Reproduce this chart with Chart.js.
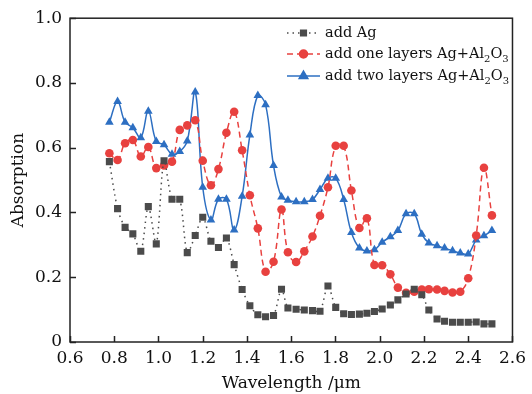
<!DOCTYPE html>
<html>
<head>
<meta charset="utf-8">
<script src="https://cdn.jsdelivr.net/npm/chart.js@4/dist/chart.umd.min.js"></script>
<style>
  html, body { margin: 0; padding: 0; background: #fff; }
  #c { display: block; }
</style>
</head>
<body>
<canvas id="c" width="532" height="394"></canvas>
<script>
const wavelength = [0.778, 0.815, 0.849, 0.884, 0.920, 0.954, 0.990, 1.025, 1.061, 1.096,
  1.130, 1.166, 1.200, 1.237, 1.271, 1.307, 1.342, 1.378, 1.413, 1.449,
  1.484, 1.520, 1.556, 1.585, 1.622, 1.659, 1.696, 1.730, 1.766, 1.801,
  1.837, 1.872, 1.908, 1.942, 1.976, 2.011, 2.048, 2.082, 2.119, 2.156,
  2.190, 2.222, 2.259, 2.293, 2.329, 2.364, 2.400, 2.436, 2.471, 2.507];

const addAg = [0.557, 0.412, 0.354, 0.334, 0.280, 0.418, 0.303, 0.560, 0.441, 0.441,
  0.276, 0.329, 0.385, 0.311, 0.292, 0.321, 0.239, 0.162, 0.112, 0.084,
  0.078, 0.082, 0.163, 0.105, 0.101, 0.099, 0.097, 0.095, 0.173, 0.107,
  0.087, 0.085, 0.086, 0.089, 0.094, 0.102, 0.114, 0.130, 0.148, 0.163,
  0.146, 0.099, 0.071, 0.064, 0.061, 0.061, 0.061, 0.062, 0.056, 0.056];

const oneLayer = [0.583, 0.562, 0.614, 0.624, 0.573, 0.602, 0.537, 0.545, 0.557, 0.655,
  0.669, 0.685, 0.560, 0.484, 0.534, 0.646, 0.711, 0.592, 0.453, 0.351,
  0.217, 0.248, 0.409, 0.277, 0.247, 0.280, 0.326, 0.390, 0.478, 0.606,
  0.606, 0.468, 0.352, 0.382, 0.238, 0.237, 0.209, 0.168, 0.152, 0.155,
  0.162, 0.163, 0.162, 0.158, 0.153, 0.155, 0.197, 0.329, 0.538, 0.391];

const twoLayers = [0.679, 0.743, 0.679, 0.662, 0.631, 0.713, 0.619, 0.609, 0.580, 0.588,
  0.621, 0.772, 0.478, 0.377, 0.441, 0.441, 0.346, 0.450, 0.639, 0.761,
  0.733, 0.545, 0.448, 0.438, 0.433, 0.433, 0.440, 0.471, 0.506, 0.506,
  0.440, 0.338, 0.290, 0.281, 0.285, 0.308, 0.325, 0.344, 0.396, 0.396,
  0.333, 0.306, 0.297, 0.290, 0.282, 0.275, 0.272, 0.315, 0.328, 0.344];

const xTicks = [0.6, 0.8, 1.0, 1.2, 1.4, 1.6, 1.8, 2.0, 2.2, 2.4, 2.6];
const yTicks = [0, 0.2, 0.4, 0.6, 0.8, 1.0];

const GRAY = "#4b4b4b";
const RED = "#e8413f";
const BLUE = "#2d6fc2";
const FONT = "'DejaVu Serif', serif";

const pts = (ys) => ys.map((y, i) => ({ x: wavelength[i], y: y }));

// legend entries, "sub" pieces are drawn as subscripts
const legendRows = [
  { color: GRAY, dash: [1.5, 4], style: "rect", r: 4, parts: [["add Ag", false]] },
  { color: RED, dash: [6, 4], style: "circle", r: 4, parts: [["add one layers Ag+Al", false], ["2", true], ["O", false], ["3", true]] },
  { color: BLUE, dash: [], style: "triangle", r: 5, parts: [["add two layers Ag+Al", false], ["2", true], ["O", false], ["3", true]] },
];

const framePlugin = {
  id: "frame",
  afterDraw(chart) {
    const { ctx, chartArea: a, scales } = chart;
    ctx.save();
    ctx.strokeStyle = "#222";
    ctx.lineWidth = 1.5;
    ctx.setLineDash([]);
    ctx.strokeRect(a.left, a.top, a.right - a.left, a.bottom - a.top);
    ctx.beginPath();
    xTicks.forEach((v) => {
      const px = Math.round(scales.x.getPixelForValue(v)) + 0.5;
      ctx.moveTo(px, a.bottom);
      ctx.lineTo(px, a.bottom - 6);
    });
    yTicks.forEach((v) => {
      const py = Math.round(scales.y.getPixelForValue(v)) + 0.5;
      ctx.moveTo(a.left, py);
      ctx.lineTo(a.left + 6, py);
    });
    ctx.stroke();

    // legend
    const x0 = 287, x1 = 320, tx = 325;
    const rowsY = [33, 54, 76];
    legendRows.forEach((row, i) => {
      const y = rowsY[i];
      ctx.strokeStyle = row.color;
      ctx.lineWidth = 1.5;
      ctx.setLineDash(row.dash);
      ctx.beginPath();
      ctx.moveTo(x0, y);
      ctx.lineTo(x1, y);
      ctx.stroke();
      ctx.setLineDash([]);
      ctx.fillStyle = row.color;
      Chart.helpers.drawPoint(ctx, { pointStyle: row.style, radius: row.r, rotation: 0, borderWidth: 1 }, (x0 + x1) / 2, y);
      ctx.fill();
      let cx = tx;
      ctx.fillStyle = "#111";
      ctx.textBaseline = "middle";
      ctx.textAlign = "left";
      row.parts.forEach(([txt, sub]) => {
        ctx.font = (sub ? "10px " : "14.5px ") + FONT;
        ctx.fillText(txt, cx, sub ? y + 5 : y);
        cx += ctx.measureText(txt).width;
      });
    });
    ctx.restore();
  },
};

new Chart(document.getElementById("c"), {
  type: "line",
  data: {
    datasets: [
      {
        label: "add Ag",
        data: pts(addAg),
        borderColor: GRAY,
        backgroundColor: GRAY,
        borderWidth: 1.5,
        borderDash: [1.5, 4],
        pointStyle: "rect",
        pointRadius: 5,
        pointBorderWidth: 0,
        tension: 0.3,
      },
      {
        label: "add one layers Ag+Al2O3",
        data: pts(oneLayer),
        borderColor: RED,
        backgroundColor: RED,
        borderWidth: 1.5,
        borderDash: [6, 4],
        pointStyle: "circle",
        pointRadius: 4.3,
        pointBorderWidth: 0,
        tension: 0.4,
      },
      {
        label: "add two layers Ag+Al2O3",
        data: pts(twoLayers),
        borderColor: BLUE,
        backgroundColor: BLUE,
        borderWidth: 1.5,
        pointStyle: "triangle",
        pointRadius: 5,
        pointBorderWidth: 0,
        tension: 0.4,
      },
    ],
  },
  options: {
    responsive: false,
    animation: false,
    layout: { padding: { left: 0, right: 11, top: 14, bottom: 0 } },
    plugins: { legend: { display: false }, tooltip: { enabled: false } },
    scales: {
      x: {
        type: "linear",
        min: 0.6,
        max: 2.6,
        afterBuildTicks: (s) => { s.ticks = xTicks.map((v) => ({ value: v })); },
        afterFit: (s) => { s.height = 52; },
        grid: { display: false, drawTicks: false },
        border: { display: false },
        ticks: {
          padding: 6,
          color: "#111",
          font: { family: FONT, size: 17 },
          callback: (v) => v.toFixed(1),
        },
        title: {
          display: true,
          text: "Wavelength /\u03bcm",
          color: "#111",
          font: { family: FONT, size: 17 },
          padding: { top: 0, bottom: 0 },
        },
      },
      y: {
        min: 0,
        max: 1,
        afterBuildTicks: (s) => { s.ticks = yTicks.map((v) => ({ value: v })); },
        afterFit: (s) => { s.width = 70; },
        grid: { display: false, drawTicks: false },
        border: { display: false },
        ticks: {
          padding: 8,
          color: "#111",
          font: { family: FONT, size: 17 },
          callback: (v) => (v === 0 ? "0" : v.toFixed(1)),
        },
        title: {
          display: true,
          text: "Absorption",
          color: "#111",
          font: { family: FONT, size: 17 },
          padding: { top: 8, bottom: 0 },
        },
      },
    },
  },
  plugins: [framePlugin],
});
</script>
</body>
</html>
